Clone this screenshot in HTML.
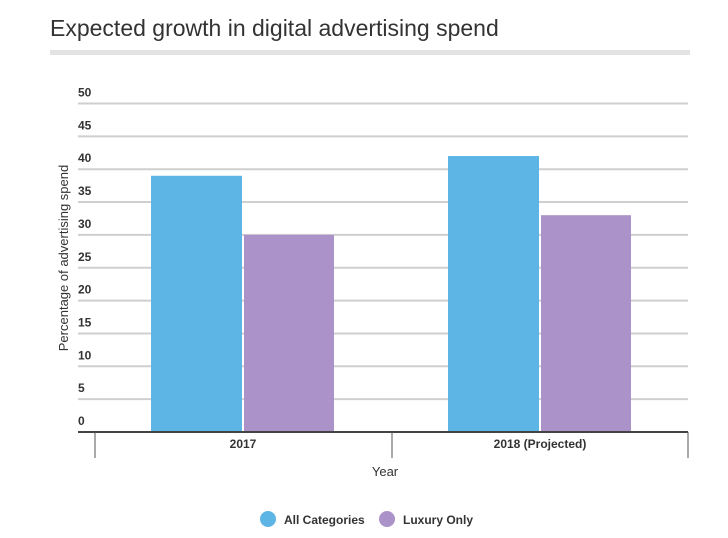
<!DOCTYPE html>
<html><head><meta charset="utf-8"><style>
body{margin:0;background:#fff;font-family:"Liberation Sans",sans-serif;}
#c{position:relative;width:728px;height:538px;overflow:hidden}
</style></head><body>
<div id="c">
<svg id="s" width="728" height="538">
<text x="50" y="36" font-size="23" fill="#333">Expected growth in digital advertising spend</text>
<rect x="50" y="50" width="640" height="5" fill="#e3e3e3"/>
<g id="grid"></g><g id="bars"></g><g id="axis"></g>
<text transform="translate(68,258) rotate(-90)" text-anchor="middle" font-size="13" fill="#333">Percentage of advertising spend</text>
<text x="385" y="476" text-anchor="middle" font-size="13" fill="#333">Year</text>
<g>
<circle cx="268" cy="519" r="8" fill="#5db5e5"/>
<text x="284" y="524" font-size="12" font-weight="bold" fill="#333">All Categories</text>
<circle cx="387" cy="519" r="8" fill="#ab92c8"/>
<text x="403" y="524" font-size="12" font-weight="bold" fill="#333">Luxury Only</text>
</g>
</svg></div>
<script>
const categories=["2017","2018 (Projected)"];
const allCategories=[39,42];
const luxuryOnly=[30,33];
const yTicks=[0,5,10,15,20,25,30,35,40,45,50];
const NS="http://www.w3.org/2000/svg";
const y0=432,y1=103.5,yMax=50,xL=78,xR=688;
const y=v=>y0-(v/yMax)*(y0-y1);
const bandW=(xR-xL)/categories.length;
function mk(t,a,p){const e=document.createElementNS(NS,t);for(const k in a)e.setAttribute(k,a[k]);p.appendChild(e);return e;}
const g=document.getElementById('grid');
yTicks.forEach(v=>{
 if(v>0){const l=mk('line',{x1:xL,x2:xR,y1:y(v),y2:y(v),stroke:'#cfcfcf','stroke-width':2},g);
 
 }
 const t=mk('text',{x:xL,y:y(v)-7,'font-size':12,'font-weight':'bold',fill:'#333'},g);t.textContent=v;
 
 
});
const b=document.getElementById('bars');
categories.forEach((c,i)=>{
 const cx=95+i*297;
 const bx=cx+56,bw=91;
 const r1=mk('rect',{x:bx,y:y(allCategories[i]),width:bw,height:y0-y(allCategories[i]),fill:'#5db5e5'},b);
 
 
 const r2=mk('rect',{x:bx+bw+2,y:y(luxuryOnly[i]),width:bw-1,height:y0-y(luxuryOnly[i]),fill:'#ab92c8'},b);
 
 
 const t=mk('text',{x:bx+bw+1,y:448,'text-anchor':'middle','font-size':12,'font-weight':'bold',fill:'#333'},b);t.textContent=c;
 
 
});
const a=document.getElementById('axis');
const base=mk('line',{x1:xL,x2:xR,y1:y0,y2:y0,stroke:'#444','stroke-width':2},a);


[95,392,688].forEach((x,i)=>{const l=mk('line',{x1:x,x2:x,y1:y0,y2:458,stroke:'#555','stroke-width':1},a);
 
 });
</script>
</body></html>
